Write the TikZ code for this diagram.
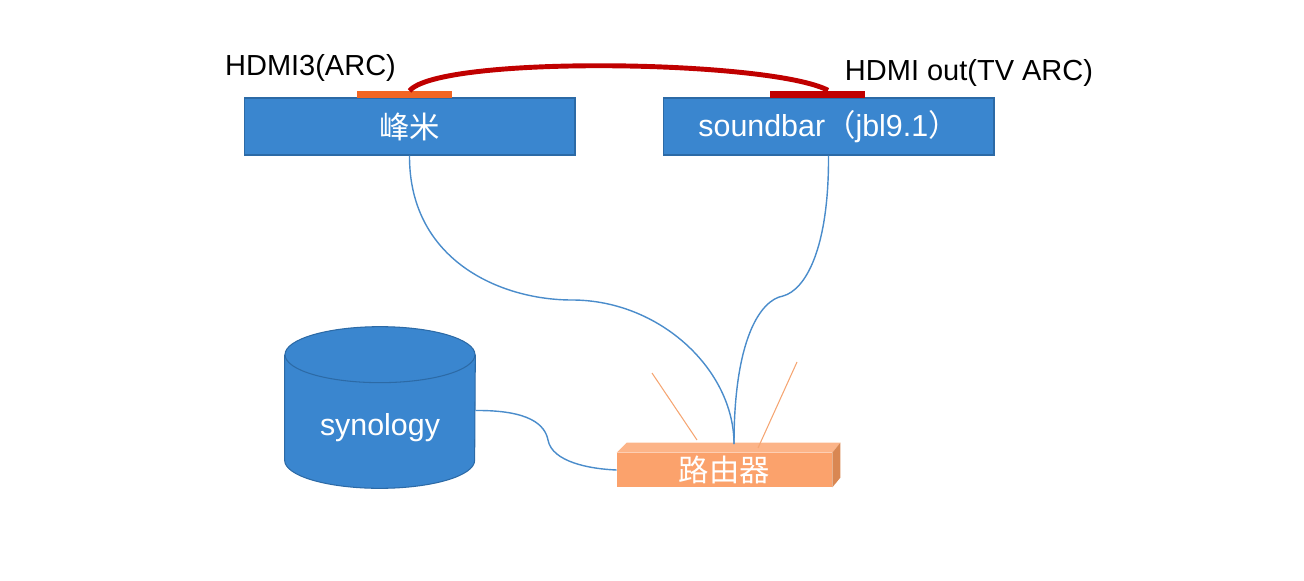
\documentclass[tikz,border=0pt]{standalone}
\usepackage{fontspec}
\setmainfont{Liberation Sans}
\newfontfamily\cjk{Noto Sans CJK SC}
\definecolor{boxblue}{HTML}{3A86CF}
\definecolor{edgeblue}{HTML}{2C6AA6}
\definecolor{cableblue}{HTML}{4A8CCB}
\definecolor{arcred}{HTML}{C00000}
\definecolor{portorange}{HTML}{F26522}
\definecolor{routerfront}{HTML}{FBA26C}
\definecolor{routertop}{HTML}{FCB488}
\definecolor{routerside}{HTML}{D98752}
\definecolor{antenna}{HTML}{F5A572}

\begin{document}
\begin{tikzpicture}[x=0.02cm, y=-0.02cm,
    box/.style={draw=edgeblue, fill=boxblue, line width=0.6pt, minimum width=6.62cm, minimum height=1.14cm, inner sep=0pt, text=white, font=\fontsize{17.3}{20}\selectfont},
    port/.style={minimum width=1.9cm, minimum height=0.13cm, inner sep=0pt, anchor=south},
    cable/.style={cableblue, line width=0.8pt},
    tag/.style={anchor=base, font=\fontsize{16.5}{20}\selectfont}]
    \useasboundingbox (0,0) rectangle (1304,581);

    % devices
    \node[box] (fengmi) at (409.5,126.5) {\cjk 峰米};
    \node[box] (soundbar) at (828.5,126.5) {soundbar{\cjk （}jbl9.1{\cjk ）}};
    \node[port, fill=portorange] (arcin) at (404.5,98) {};
    \node[port, fill=arcred, minimum height=0.14cm] (arcout) at (817,98) {};
    \node[tag] (arcintag) at (310.5,76) {HDMI3(ARC)};
    \node[tag] (arcouttag) at (969,81) {HDMI out(TV ARC)};

    % synology drum
    \node[minimum width=3.8cm, minimum height=2.1cm, inner sep=0pt] (synology) at (380,407.5) {};
    \filldraw[fill=boxblue, draw=edgeblue, line width=0.6pt] (synology.north west) -- (synology.south west) arc[start angle=180, end angle=360, x radius=1.9cm, y radius=0.56cm] -- (synology.north east);
    \filldraw[fill=boxblue, draw=edgeblue, line width=0.6pt] (synology.north) ellipse[x radius=1.9cm, y radius=0.56cm];
    \node[text=white, font=\fontsize{17.3}{20}\selectfont] (synologytext) at (380,428) {synology};

    % router
    \node[fill=routerfront, minimum width=4.3cm, minimum height=0.68cm, inner sep=0pt, text=white, font=\fontsize{17.3}{20}\selectfont] (router) at (724.5,470) {\cjk 路由器};
    \fill[routertop] (router.north west) -- ++(10,-10) -- ([shift={(8,-10)}]router.north east) -- (router.north east) -- cycle;
    \fill[routerside] (router.north east) -- ++(8,-10) -- ++(0,35) -- (router.south east) -- cycle;
    \draw[antenna, line width=0.6pt] (652,373) -- (697,440);
    \draw[antenna, line width=0.6pt] (797,362) -- (758,448);
    \coordinate (wan) at (734,444);

    % cables
    \draw[arcred, line width=2.8pt] ([xshift=0.1cm]arcin.north) .. controls (440,55) and (770,60) .. ([xshift=0.22cm]arcout.north);
    \draw[cable] (fengmi.south) .. controls (409,260) and (500,300) .. (572,300) .. controls (660,300) and (734,370) .. (wan);
    \draw[cable] (soundbar.south) .. controls (829,250) and (805,290) .. (783,296) .. controls (760,300) and (734,340) .. (wan);
    \draw[cable] ([yshift=-0.06cm]synology.east) .. controls (530,410) and (545,425) .. (548,440) .. controls (552,462) and (590,469) .. (router.west);
\end{tikzpicture}
\end{document}
